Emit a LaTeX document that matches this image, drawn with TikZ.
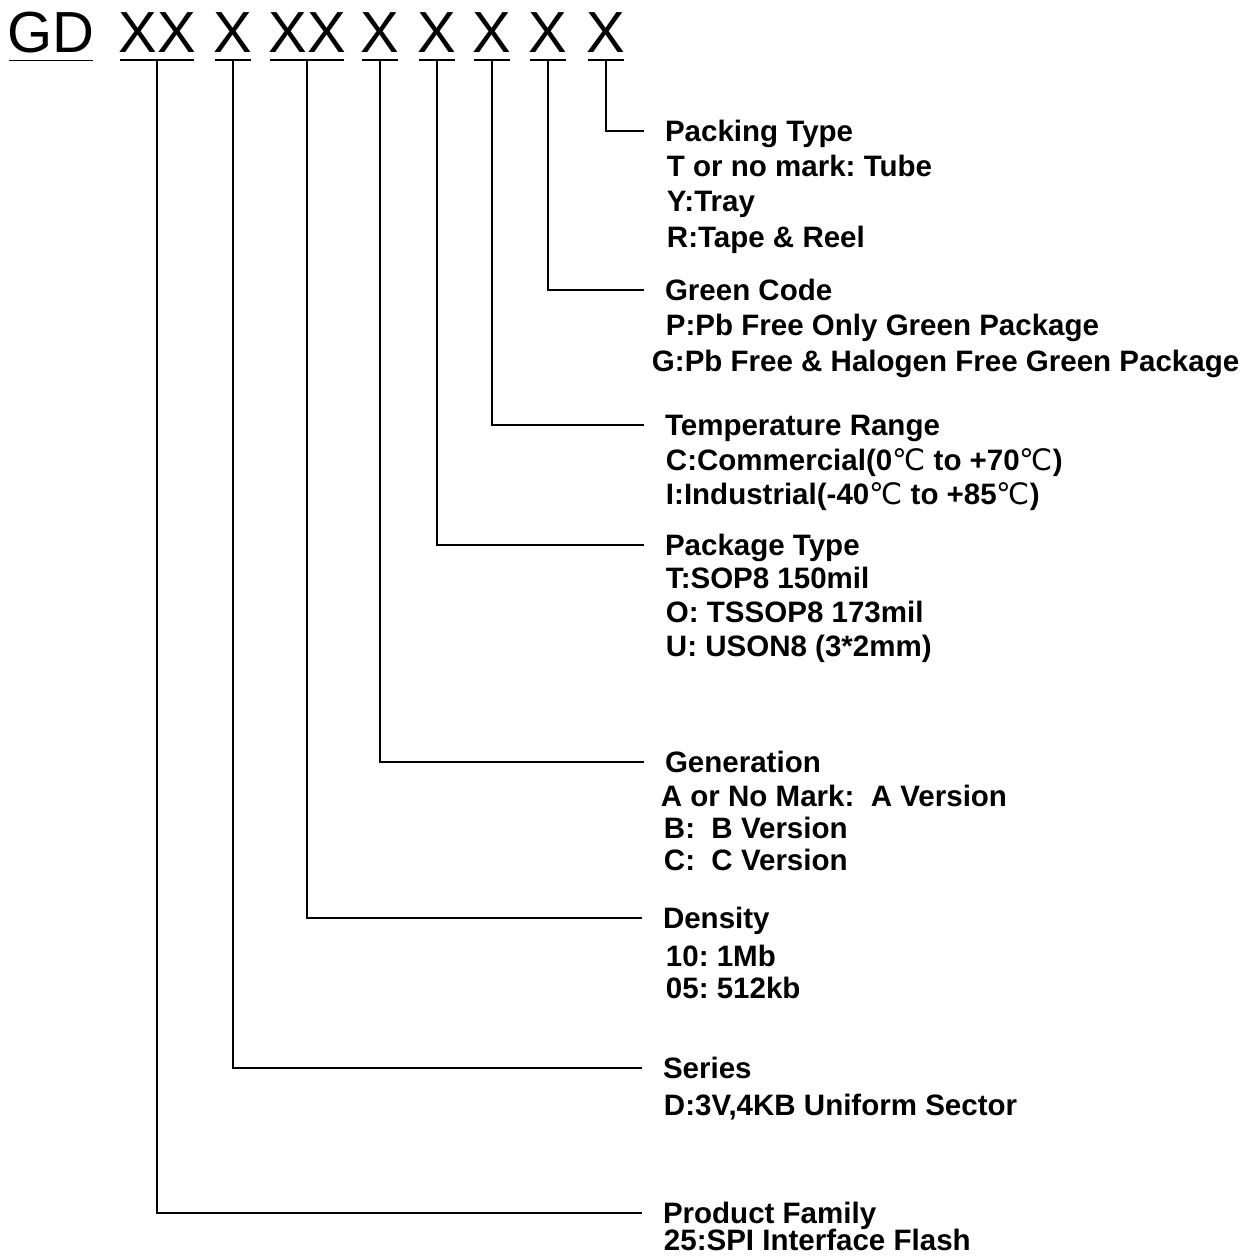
\documentclass[tikz,border=0pt]{standalone}
\usepackage{fontspec}
\setmainfont{Liberation Sans}
\newfontfamily\degfont{DejaVu Sans}
\newcommand{\degc}{{\degfont\mdseries ℃}}
\frenchspacing

\begin{document}
\begin{tikzpicture}[x=0.02cm, y=-0.02cm, line width=1.1pt,
    hdr/.style={anchor=base, inner xsep=0pt, inner ysep=3.4pt, font=\fontsize{33pt}{33pt}\selectfont},
    ttl/.style={anchor=west, inner xsep=11.4pt, inner ysep=0pt, text height=12pt, text depth=0pt, font=\fontsize{16.8pt}{19pt}\selectfont\bfseries},
    itm/.style={ttl, inner xsep=0pt}]

    \useasboundingbox (0,0) rectangle (1258,1256);

    \node(hdr-gd)[hdr] at (51,53) {GD};
    \node(hdr-fam)[hdr] at (157,53) {XX};
    \node(hdr-ser)[hdr] at (233,53) {X};
    \node(hdr-den)[hdr] at (307,53) {XX};
    \node(hdr-gen)[hdr] at (380,53) {X};
    \node(hdr-pkg)[hdr] at (437,53) {X};
    \node(hdr-tmp)[hdr] at (492,53) {X};
    \node(hdr-grn)[hdr] at (548,53) {X};
    \node(hdr-pck)[hdr] at (606,53) {X};

    \foreach \n in {gd,fam,ser,den,gen,pkg,tmp,grn,pck}
      \draw[shorten <=1.5pt, shorten >=1.5pt] (hdr-\n.south west) -- (hdr-\n.south east);

    \node(pck)[ttl] at (644,131) {Packing Type};
    \node(pck-1)[itm] at (666,166) {T or no mark: Tube};
    \node(pck-2)[itm] at (666,201) {Y:Tray};
    \node(pck-3)[itm] at (666,237) {R:Tape \& Reel};

    \node(grn)[ttl] at (644,290) {Green Code};
    \node(grn-1)[itm] at (665,325) {P:Pb Free Only Green Package};
    \node(grn-2)[itm] at (651,361) {G:Pb Free \& Halogen Free Green Package};

    \node(tmp)[ttl] at (644,425) {Temperature Range};
    \node(tmp-1)[itm] at (665,460) {C:Commercial(0\degc\ to +70\degc)};
    \node(tmp-2)[itm] at (665,494) {I:Industrial(-40\degc\ to +85\degc)};

    \node(pkg)[ttl] at (644,545) {Package Type};
    \node(pkg-1)[itm] at (665,578) {T:SOP8 150mil};
    \node(pkg-2)[itm] at (665,612) {O: TSSOP8 173mil};
    \node(pkg-3)[itm] at (665,646) {U: USON8 (3*2mm)};

    \node(gen)[ttl] at (644,762) {Generation};
    \node(gen-1)[itm] at (660,796) {A or No Mark:\ \ A Version};
    \node(gen-2)[itm] at (663,828) {B:\ \ B Version};
    \node(gen-3)[itm] at (663,860) {C:\ \ C Version};

    \node(den)[ttl] at (642,918) {Density};
    \node(den-1)[itm] at (665,956) {10: 1Mb};
    \node(den-2)[itm] at (665,988) {05: 512kb};

    \node(ser)[ttl] at (642,1068) {Series};
    \node(ser-1)[itm] at (663,1105) {D:3V,4KB Uniform Sector};

    \node(fam)[ttl] at (642,1213) {Product Family};
    \node(fam-1)[itm] at (663,1240) {25:SPI Interface Flash};

    \draw (hdr-pck.south) |- (pck.west);
    \draw (hdr-grn.south) |- (grn.west);
    \draw (hdr-tmp.south) |- (tmp.west);
    \draw (hdr-pkg.south) |- (pkg.west);
    \draw (hdr-gen.south) |- (gen.west);
    \draw (hdr-den.south) |- (den.west);
    \draw (hdr-ser.south) |- (ser.west);
    \draw (hdr-fam.south) |- (fam.west);
  \end{tikzpicture}
\end{document}
